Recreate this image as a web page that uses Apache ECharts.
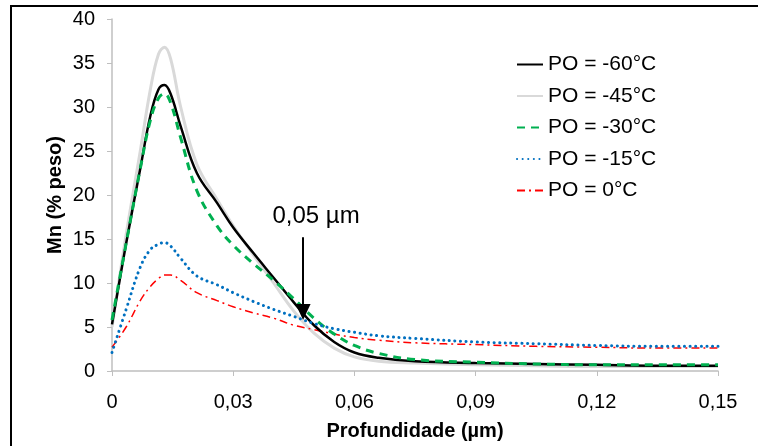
<!DOCTYPE html>
<html>
<head>
<meta charset="utf-8">
<script src="https://cdn.jsdelivr.net/npm/echarts@6/dist/echarts.min.js"></script>
<style>
    html, body { margin: 0; padding: 0; background: #fff; }
    #chart { width: 758px; height: 446px; }
</style>
</head>
<body>
<div id="chart"></div>
<script>
    // profundidade (µm)
    var depth = [0, 0.0035, 0.007, 0.0095, 0.0115, 0.013, 0.0145, 0.017, 0.021, 0.026, 0.03, 0.035,
        0.04, 0.045, 0.05, 0.055, 0.06, 0.066, 0.075, 0.09, 0.105, 0.12, 0.135, 0.15];
    var seriesNames = ['PO = -60°C', 'PO = -45°C', 'PO = -30°C', 'PO = -15°C', 'PO = 0°C'];
    var po60 = [5.3, 14.5, 23, 29, 32, 32.5, 31.5, 27.8, 22.5, 19.1, 16.3, 13.4, 10.6, 7.8, 5.2, 3.3, 2.1, 1.5, 1.1, 0.9, 0.8, 0.7, 0.6, 0.6];
    var po45 = [5.0, 15.5, 25, 32, 36, 36.8, 35.5, 30, 23.5, 19.5, 16.5, 13.2, 10, 6.8, 4.3, 2.6, 1.6, 1.1, 0.9, 0.7, 0.6, 0.5, 0.5, 0.5];
    var po30 = [5.8, 14.5, 23, 28.5, 31, 31.5, 30.5, 26.5, 20.5, 16.5, 14.3, 12.2, 10.3, 8.2, 6, 4.2, 2.9, 2.0, 1.3, 1.0, 0.8, 0.7, 0.7, 0.7];
    var po15 = [2.1, 7.0, 11.8, 13.8, 14.4, 14.6, 14.2, 12.8, 10.8, 9.8, 8.9, 7.9, 7.0, 6.2, 5.4, 4.8, 4.4, 4.0, 3.7, 3.3, 3.1, 2.9, 2.8, 2.8];
    var po0 = [2.7, 5.0, 8.0, 9.6, 10.5, 10.9, 10.9, 10.3, 8.9, 8.0, 7.3, 6.6, 6.0, 5.2, 4.7, 4.2, 3.8, 3.5, 3.2, 3.0, 2.8, 2.7, 2.6, 2.6];
    // seta 0,05 µm
    var arrowX = 0.0473;
    var arrowY = [15.2, 6.7];

    function pairs(ys) {
        return depth.map(function (x, i) { return [x, ys[i]]; });
    }

    var fontFamily = 'Liberation Sans, Arial, sans-serif';
    var chart = echarts.init(document.getElementById('chart'));

    var option = {
        animation: false,
        textStyle: { fontFamily: fontFamily },
        grid: { left: 112, right: 40, top: 19, bottom: 74 },
        graphic: [{
            type: 'rect',
            shape: { x: 11, y: 6, width: 800, height: 500 },
            style: { fill: 'none', stroke: '#000', lineWidth: 2 },
            silent: true
        }],
        legend: {
            orient: 'vertical',
            left: 511,
            top: 49,
            itemWidth: 26,
            itemHeight: 14,
            itemGap: 10.5,
            itemStyle: { opacity: 0 },
            textStyle: { fontSize: 21, color: '#000', fontFamily: fontFamily },
            data: seriesNames
        },
        xAxis: {
            type: 'value',
            min: 0,
            max: 0.15,
            interval: 0.03,
            name: 'Profundidade (µm)',
            nameLocation: 'middle',
            nameGap: 50,
            nameTextStyle: { fontSize: 20, fontWeight: 'bold', color: '#000' },
            axisLine: { lineStyle: { color: '#bfbfbf', width: 1.5 } },
            axisTick: { length: 5, lineStyle: { color: '#bfbfbf' } },
            splitLine: { show: false },
            axisLabel: {
                fontSize: 20, color: '#000', margin: 21,
                formatter: function (v) { return v === 0 ? '0' : v.toFixed(2).replace('.', ','); }
            }
        },
        yAxis: {
            type: 'value',
            min: 0,
            max: 40,
            interval: 5,
            name: 'Mn (% peso)',
            nameLocation: 'middle',
            nameGap: 47,
            nameMoveOverlap: false,
            nameTextStyle: { fontSize: 20, fontWeight: 'bold', color: '#000' },
            axisLine: { show: true, lineStyle: { color: '#bfbfbf', width: 1.5 } },
            axisTick: { show: true, length: 5, lineStyle: { color: '#bfbfbf' } },
            splitLine: { show: false },
            axisLabel: { fontSize: 20, color: '#000', margin: 17 }
        },
        series: [
            {
                name: seriesNames[1], type: 'line', smooth: 0.4, symbol: 'none', z: 1,
                lineStyle: { color: '#d9d9d9', width: 3 },
                itemStyle: { color: '#d9d9d9' },
                data: pairs(po45)
            },
            {
                name: seriesNames[0], type: 'line', smooth: 0.4, symbol: 'none', z: 3,
                lineStyle: { color: '#000', width: 2.5 },
                itemStyle: { color: '#000' },
                data: pairs(po60),
                markLine: {
                    silent: true,
                    symbol: ['none', 'triangle'],
                    symbolSize: [15, 16],
                    lineStyle: { color: '#000', width: 2, type: 'solid' },
                    label: {
                        show: true, position: 'start', distance: 9,
                        padding: [0, 0, 0, 26],
                        formatter: '0,05 µm', fontSize: 24, color: '#000', fontFamily: fontFamily
                    },
                    data: [[{ coord: [arrowX, arrowY[0]] }, { coord: [arrowX, arrowY[1]] }]]
                }
            },
            {
                name: seriesNames[2], type: 'line', smooth: 0.4, symbol: 'none', z: 4,
                lineStyle: { color: '#00b050', width: 3, type: [8, 6] },
                itemStyle: { color: '#00b050' },
                data: pairs(po30)
            },
            {
                name: seriesNames[3], type: 'line', smooth: 0.4, symbol: 'none', z: 5,
                lineStyle: { color: '#0070c0', width: 3, type: [0.1, 5.5], cap: 'round' },
                itemStyle: { color: '#0070c0' },
                data: pairs(po15)
            },
            {
                name: seriesNames[4], type: 'line', smooth: 0.4, symbol: 'none', z: 2,
                lineStyle: { color: '#ff0000', width: 1.5, type: [8, 4, 2, 4] },
                itemStyle: { color: '#ff0000' },
                data: pairs(po0)
            }
        ]
    };
    chart.setOption(option);
</script>
</body>
</html>
